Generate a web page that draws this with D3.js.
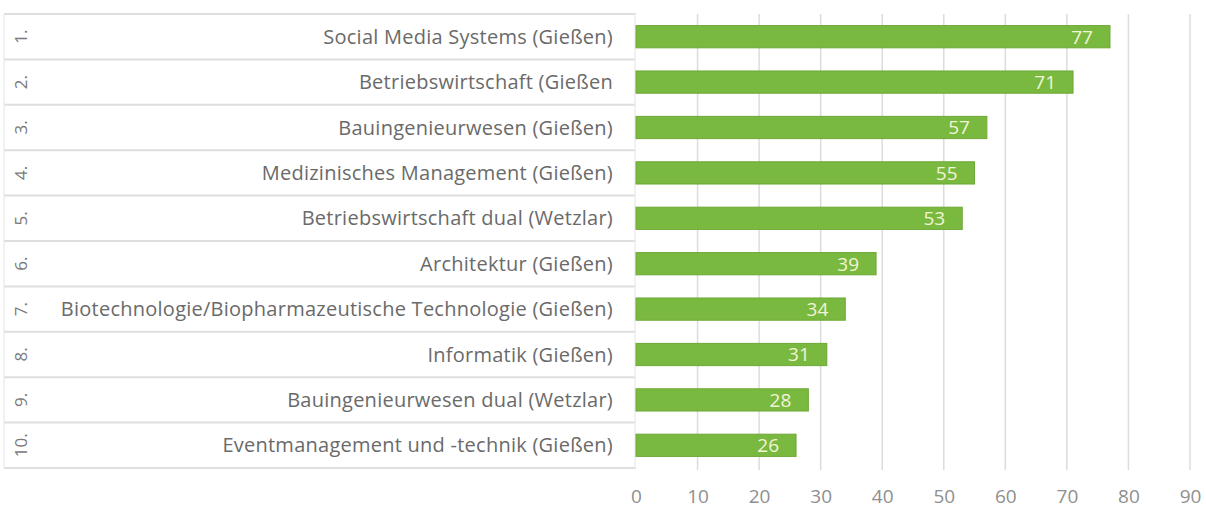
<!DOCTYPE html>
<html>
<head>
<meta charset="utf-8">
<script src="https://cdn.jsdelivr.net/npm/d3@7"></script>
<style>
  html, body { margin: 0; padding: 0; background: #fff; }
  svg { display: block; }
</style>
</head>
<body>
<svg id="chart" width="1206" height="511"></svg>
<script>
const ranks = ["1.", "2.", "3.", "4.", "5.", "6.", "7.", "8.", "9.", "10."];
const categories = [
  "Social Media Systems (Gießen)",
  "Betriebswirtschaft (Gießen",
  "Bauingenieurwesen (Gießen)",
  "Medizinisches Management (Gießen)",
  "Betriebswirtschaft dual (Wetzlar)",
  "Architektur (Gießen)",
  "Biotechnologie/Biopharmazeutische Technologie (Gießen)",
  "Informatik (Gießen)",
  "Bauingenieurwesen dual (Wetzlar)",
  "Eventmanagement und -technik (Gießen)"
];
const values = [77, 71, 57, 55, 53, 39, 34, 31, 28, 26];
const tickValues = [0, 10, 20, 30, 40, 50, 60, 70, 80, 90];

const svg = d3.select("#chart");
const font = "'Open Sans', 'DejaVu Sans', sans-serif";

const x = d3.scaleLinear().domain([0, 90]).range([636, 1190]);
const y = d3.scaleBand().domain(d3.range(categories.length)).range([14, 468]).padding(0);
const barH = y.bandwidth() * 0.49;

// gridlines
svg.append("g").selectAll("line").data(tickValues.slice(1)).join("line")
  .attr("x1", d => x(d)).attr("x2", d => x(d))
  .attr("y1", 14).attr("y2", 470)
  .attr("stroke", "#dcdcdc").attr("stroke-width", 1.5);

// table row lines
const rowEdges = d3.range(categories.length + 1).map(i => i < categories.length ? y(i) : y(i - 1) + y.step());
svg.append("g").selectAll("line").data(rowEdges).join("line")
  .attr("x1", 4).attr("x2", 636)
  .attr("y1", d => d).attr("y2", d => d)
  .attr("stroke", "#dedede").attr("stroke-width", 2);
// table vertical borders
svg.append("line").attr("x1", 4).attr("x2", 4).attr("y1", 14).attr("y2", 468)
  .attr("stroke", "#ececec").attr("stroke-width", 1.5);
svg.append("line").attr("x1", 635).attr("x2", 635).attr("y1", 14).attr("y2", 468)
  .attr("stroke", "#ececec").attr("stroke-width", 1.5);

// rank labels (rotated)
svg.append("g").selectAll("text").data(ranks).join("text")
  .attr("transform", (d, i) => `translate(27,${y(i) + y.bandwidth() / 2}) rotate(-90)`)
  .attr("text-anchor", "middle")
  .attr("font-family", font).attr("font-size", 17).attr("fill", "#7a7a7a")
  .text(d => d);

// category labels
svg.append("g").selectAll("text").data(categories).join("text")
  .attr("x", 613).attr("y", (d, i) => y(i) + y.bandwidth() / 2)
  .attr("dy", "0.35em")
  .attr("text-anchor", "end")
  .attr("font-family", font).attr("font-size", 20).attr("letter-spacing", 0.25)
  .attr("fill", "#6a6a6a")
  .text(d => d);

// bars
svg.append("g").selectAll("rect").data(values).join("rect")
  .attr("x", x(0)).attr("y", (d, i) => y(i) + (y.bandwidth() - barH) / 2)
  .attr("width", d => x(d) - x(0)).attr("height", barH)
  .attr("fill", "#7ab93f").attr("stroke", "#6ea838").attr("stroke-width", 1);

// value labels
svg.append("g").selectAll("text").data(values).join("text")
  .attr("x", d => x(d) - 17).attr("y", (d, i) => y(i) + y.bandwidth() / 2)
  .attr("dy", "0.36em")
  .attr("text-anchor", "end")
  .attr("font-family", font).attr("font-size", 19).attr("fill", "#f2f4d6")
  .text(d => d);

// x axis labels
const axis = d3.axisBottom(x).tickValues(tickValues).tickSize(0).tickPadding(0);
const ax = svg.append("g").attr("transform", "translate(0,489)").call(axis);
ax.select(".domain").remove();
ax.selectAll("text").attr("font-family", font).attr("font-size", 19).attr("fill", "#8f8f8f");
</script>
</body>
</html>
